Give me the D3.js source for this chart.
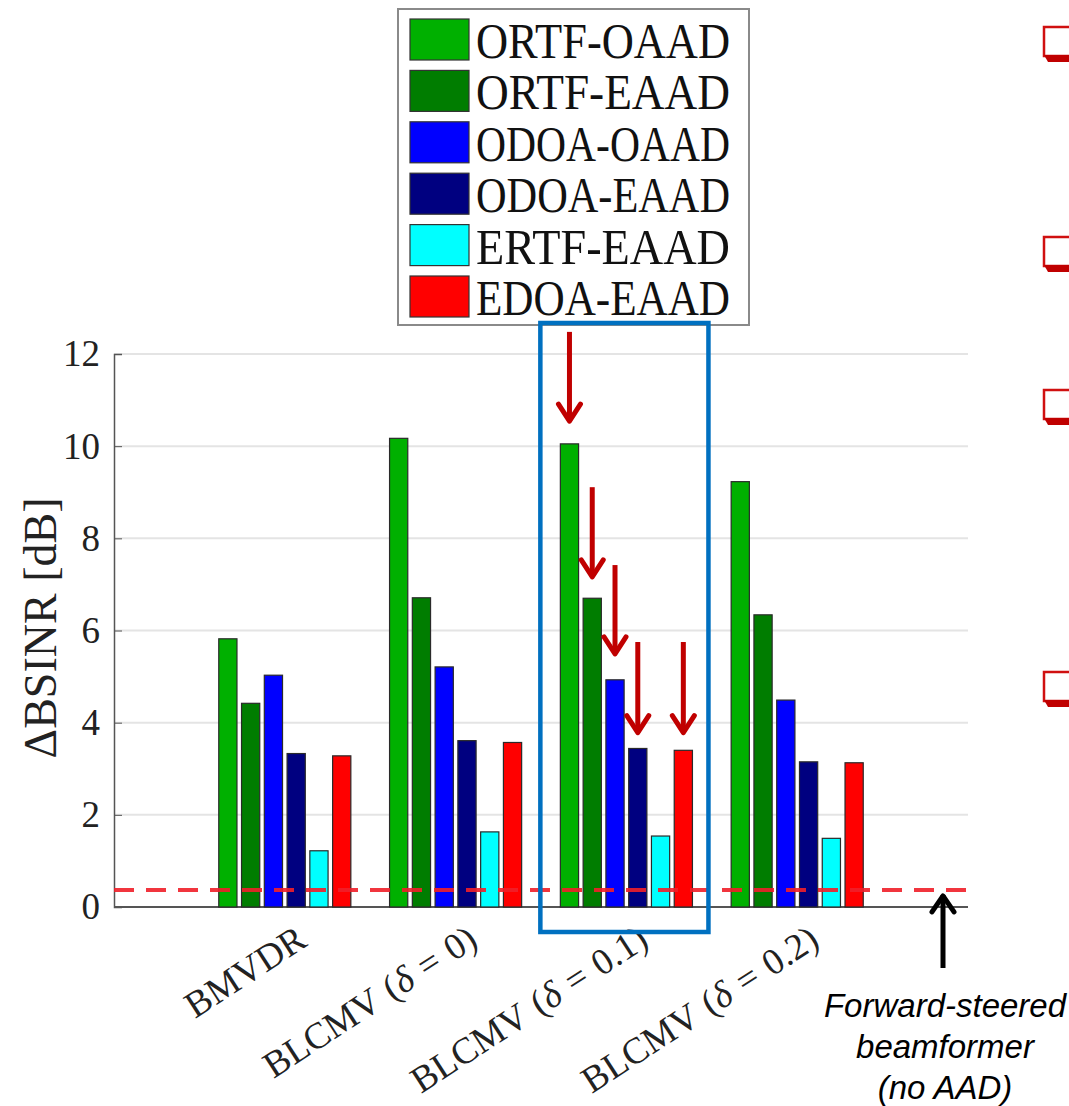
<!DOCTYPE html>
<html lang="en">
<head>
<meta charset="UTF-8">
<title>BSINR bars</title>
<script src="https://cdn.jsdelivr.net/npm/d3@7"></script>
<style>
  body { margin: 0; background: #fff; }
  svg { display: block; }
</style>
</head>
<body>
<div id="chart"></div>
<script>
// categories on the x axis (4 groups, x = 1..4, axis runs 0..5)
const categories = ["BMVDR", "BLCMV (δ = 0)", "BLCMV (δ = 0.1)", "BLCMV (δ = 0.2)"];
const seriesNames = ["ORTF-OAAD", "ORTF-EAAD", "ODOA-OAAD", "ODOA-EAAD", "ERTF-EAAD", "EDOA-EAAD"];
const seriesColors = ["#00b000", "#007d00", "#0000ff", "#000080", "#00ffff", "#ff0000"];

const ortfOaad = [5.82, 10.17, 10.05, 9.23];
const ortfEaad = [4.42, 6.71, 6.70, 6.34];
const odoaOaad = [5.03, 5.21, 4.93, 4.49];
const odoaEaad = [3.33, 3.61, 3.44, 3.15];
const ertfEaad = [1.22, 1.63, 1.54, 1.49];
const edoaEaad = [3.28, 3.57, 3.40, 3.13];
const values = [ortfOaad, ortfEaad, odoaOaad, odoaEaad, ertfEaad, edoaEaad];

const forwardSteered = 0.37;   // red dashed reference line
const yTicks = [0, 2, 4, 6, 8, 10, 12];

// red arrows in the highlighted group (BLCMV delta = 0.1), tip/tail in dB
const arrowGroup = 2;
const arrowSeries = [0, 1, 2, 3, 5];
const arrowTip = [10.50, 7.12, 5.45, 3.74, 3.74];
const arrowTail = [12.48, 9.11, 7.42, 5.75, 5.75];

const W = 1069, H = 1106;
const svg = d3.select("#chart").append("svg").attr("width", W).attr("height", H);
svg.append("rect").attr("width", W).attr("height", H).attr("fill", "#fff");

const x = d3.scaleLinear().domain([0, 5]).range([114, 968]);
const y = d3.scaleLinear().domain([0, 12]).range([907, 354]);
const unit = x(1) - x(0);
const xInner = d3.scaleBand().domain(d3.range(seriesNames.length))
    .range([-0.4 * unit, 0.4 * unit]).paddingInner(0.2).paddingOuter(0.1);

const serif = "'Liberation Serif', 'DejaVu Serif', serif";

// grid
svg.append("g").selectAll("line").data(yTicks).join("line")
    .attr("x1", x(0)).attr("x2", x(5))
    .attr("y1", d => y(d)).attr("y2", d => y(d))
    .attr("stroke", "#e4e4e4").attr("stroke-width", 2);

// y axis
const yAxis = svg.append("g").attr("transform", `translate(${x(0)},0)`)
    .call(d3.axisLeft(y).tickValues(yTicks).tickSize(-8).tickPadding(14));
yAxis.select(".domain").attr("stroke", "#555").attr("stroke-width", 1.5);
yAxis.selectAll(".tick line").attr("stroke", "#555");
yAxis.selectAll(".tick text").attr("font-family", serif).attr("font-size", 37).attr("fill", "#222");

// x axis baseline
svg.append("line").attr("x1", x(0)).attr("x2", x(5)).attr("y1", y(0)).attr("y2", y(0))
    .attr("stroke", "#555").attr("stroke-width", 2);

// bars
const groups = svg.append("g").selectAll("g").data(categories).join("g")
    .attr("transform", (d, i) => `translate(${x(i + 1)},0)`);
groups.selectAll("rect").data((d, i) => values.map((v, s) => ({ s, v: v[i] }))).join("rect")
    .attr("x", d => xInner(d.s))
    .attr("width", xInner.bandwidth())
    .attr("y", d => y(d.v))
    .attr("height", d => y(0) - y(d.v))
    .attr("fill", d => seriesColors[d.s])
    .attr("stroke", "#2a2a2a").attr("stroke-width", 1.2);

// dashed forward-steered line
svg.append("line").attr("x1", x(0)).attr("x2", x(5))
    .attr("y1", y(forwardSteered)).attr("y2", y(forwardSteered))
    .attr("stroke", "#f0202a").attr("stroke-width", 4).attr("stroke-dasharray", "20,12")
    .attr("opacity", 0.9);

// x tick labels, rotated
const xl = svg.append("g").selectAll("text").data(categories).join("text")
    .attr("transform", (d, i) => `translate(${x(i + 1) + 24},${y(0) + 38}) rotate(-33)`)
    .attr("text-anchor", "end")
    .attr("font-family", serif).attr("font-size", 37).attr("fill", "#222")
    .attr("word-spacing", 2);
xl.each(function (d) {
  const parts = d.split("δ");
  const t = d3.select(this);
  t.append("tspan").text(parts[0]);
  if (parts.length > 1) {
    t.append("tspan").attr("font-style", "italic").text("δ");
    t.append("tspan").text(parts[1]);
  }
});

// y label
svg.append("text").attr("transform", `translate(56,628) rotate(-90)`)
    .attr("text-anchor", "middle").attr("font-family", serif).attr("font-size", 46)
    .attr("fill", "#222").text("ΔBSINR [dB]");

// legend
const lg = svg.append("g");
lg.append("rect").attr("x", 398).attr("y", 9).attr("width", 351).attr("height", 316)
    .attr("fill", "#fff").attr("stroke", "#8a8a8a").attr("stroke-width", 2);
const li = lg.selectAll("g").data(seriesNames).join("g")
    .attr("transform", (d, i) => `translate(410,${19 + i * 51.4})`);
li.append("rect").attr("width", 59).attr("height", 41)
    .attr("fill", (d, i) => seriesColors[i]).attr("stroke", "#333").attr("stroke-width", 1.2);
li.append("text").attr("x", 66).attr("y", 39)
    .attr("font-family", serif).attr("font-size", 50).attr("fill", "#111")
    .attr("textLength", 254).attr("lengthAdjust", "spacingAndGlyphs")
    .text(d => d);

// highlight box around BLCMV (delta = 0.1)
const bx0 = x(arrowGroup + 1) + xInner(0) - 20;
const bx1 = x(arrowGroup + 1) + xInner(seriesNames.length - 1) + xInner.bandwidth() + 16;
svg.append("rect").attr("x", bx0).attr("y", y(12) - 31)
    .attr("width", bx1 - bx0).attr("height", y(0) + 25 - (y(12) - 31))
    .attr("fill", "none").attr("stroke", "#0070c0").attr("stroke-width", 4.5);

// red arrows
const ar = svg.append("g").attr("stroke", "#c00000").attr("stroke-width", 5).attr("fill", "none");
arrowSeries.forEach((s, k) => {
  const cx = x(arrowGroup + 1) + xInner(s) + xInner.bandwidth() / 2;
  const tip = y(arrowTip[k]);
  ar.append("line").attr("x1", cx).attr("x2", cx).attr("y1", y(arrowTail[k])).attr("y2", tip - 2);
  ar.append("polyline").attr("points", `${cx - 11},${tip - 19} ${cx},${tip - 2} ${cx + 11},${tip - 19}`)
      .attr("stroke-linecap", "round").attr("stroke-linejoin", "round");
});

// black arrow for the forward-steered beamformer
const fx = 943, fTip = y(forwardSteered) + 3;
svg.append("line").attr("x1", fx).attr("x2", fx).attr("y1", 968).attr("y2", fTip + 2)
    .attr("stroke", "#000").attr("stroke-width", 5);
svg.append("polyline").attr("points", `${fx - 11},${fTip + 19} ${fx},${fTip + 3} ${fx + 11},${fTip + 19}`)
    .attr("fill", "none").attr("stroke", "#000").attr("stroke-width", 5)
    .attr("stroke-linecap", "round").attr("stroke-linejoin", "round");
const fs = svg.append("text").attr("text-anchor", "middle")
    .attr("font-family", "'Liberation Sans', Arial, sans-serif").attr("font-style", "italic")
    .attr("font-size", 33).attr("fill", "#000");
["Forward-steered", "beamformer", "(no AAD)"].forEach((t, i) => {
  fs.append("tspan").attr("x", 945).attr("y", 1017 + i * 41).text(t);
});

// slide bullets on the right edge
const bulletTops = [27, 237, 390, 672];
const bl = svg.append("g").selectAll("g").data(bulletTops).join("g")
    .attr("transform", d => `translate(1044,${d})`);
bl.append("rect").attr("x", 0).attr("y", 0).attr("width", 40).attr("height", 29)
    .attr("fill", "#fff").attr("stroke", "#d01010").attr("stroke-width", 2.5);
bl.append("path").attr("d", "M0,28 L40,28 L40,35 L4,35 Z").attr("fill", "#c00000");
</script>
</body>
</html>
